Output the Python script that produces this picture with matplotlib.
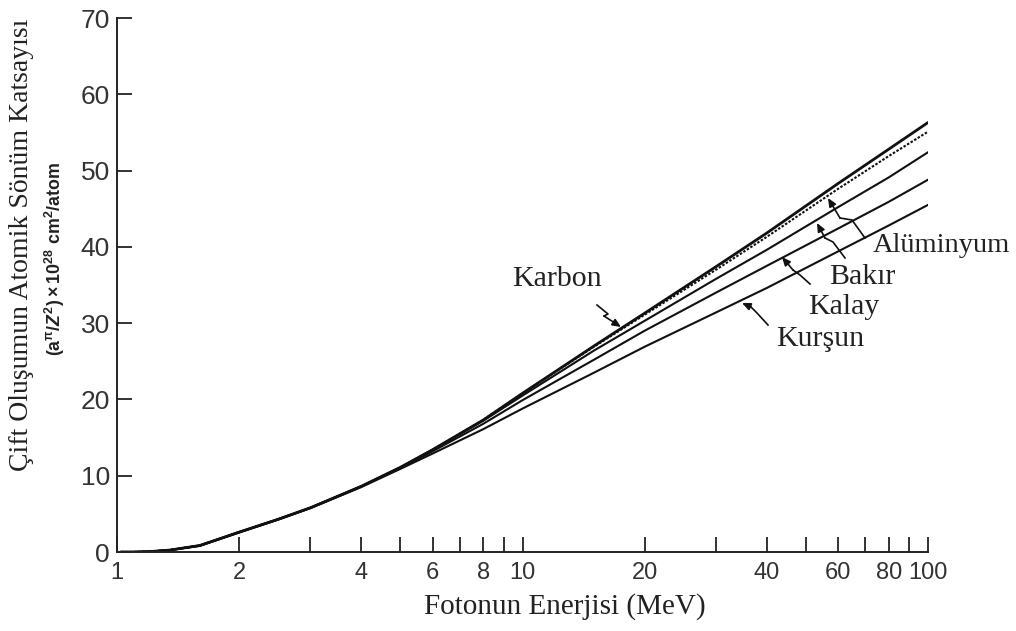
import matplotlib
matplotlib.use("Agg")
import matplotlib.pyplot as plt
from matplotlib.lines import Line2D
from matplotlib.ticker import FixedLocator, FixedFormatter, NullLocator

# ---- data ----
energy = [1.022, 1.1, 1.2, 1.35, 1.6, 2, 2.5, 3, 4, 5, 6, 8, 10, 15, 20, 30, 40, 60, 80, 100]
karbon = [0, 0.0, 0.05, 0.25, 0.85, 2.6, 4.3, 5.8, 8.6, 11.1, 13.4, 17.3, 20.8, 27.0, 31.3, 37.4, 41.8, 48.3, 52.8, 56.3]
aluminyum = [0, 0.0, 0.05, 0.25, 0.85, 2.6, 4.3, 5.8, 8.6, 11.1, 13.4, 17.3, 20.8, 26.9, 31.1, 37.0, 41.3, 47.6, 51.9, 55.1]
bakir = [0, 0.0, 0.05, 0.25, 0.85, 2.6, 4.3, 5.8, 8.6, 11.1, 13.4, 17.2, 20.5, 26.4, 30.3, 35.8, 39.6, 45.2, 49.1, 52.4]
kalay = [0, 0.0, 0.05, 0.25, 0.85, 2.6, 4.3, 5.8, 8.6, 11.0, 13.2, 16.8, 19.9, 25.2, 29.0, 34.0, 37.5, 42.4, 45.9, 48.8]
kursun = [0, 0.0, 0.05, 0.25, 0.8, 2.55, 4.25, 5.75, 8.5, 10.9, 12.9, 16.1, 18.8, 23.5, 26.9, 31.4, 34.6, 39.4, 42.8, 45.5]

xtick_pos = [1, 2, 3, 4, 5, 6, 7, 8, 9, 10, 20, 30, 40, 50, 60, 70, 80, 90, 100]
xtick_lab = ["1", "2", "", "4", "", "6", "", "8", "", "10", "20", "", "40", "", "60", "", "80", "", "100"]
ytick_pos = [0, 10, 20, 30, 40, 50, 60, 70]

W, H = 1016, 631
fig = plt.figure(figsize=(W / 100, H / 100), dpi=100)
ax = fig.add_axes([117 / W, 1 - 552 / H, (928 - 117) / W, (552 - 18) / H])

ink = "#111111"
ax.plot(energy, karbon, color=ink, lw=2.0, solid_capstyle="round", solid_joinstyle="round")
ax.plot(energy, aluminyum, color=ink, lw=1.5, ls=(0, (1.2, 0.8)))
ax.plot(energy, bakir, color=ink, lw=1.5, solid_joinstyle="round")
ax.plot(energy, kalay, color=ink, lw=1.5, solid_joinstyle="round")
ax.plot(energy, kursun, color=ink, lw=1.5, solid_joinstyle="round")

ax.set_xscale("log")
ax.set_xlim(1, 100)
ax.set_ylim(0, 70)
ax.xaxis.set_major_locator(FixedLocator(xtick_pos))
ax.xaxis.set_major_formatter(FixedFormatter(xtick_lab))
ax.xaxis.set_minor_locator(NullLocator())
ax.yaxis.set_major_locator(FixedLocator(ytick_pos))
ax.set_yticklabels([str(v) for v in ytick_pos])

for s in ["top", "right"]:
    ax.spines[s].set_visible(False)
for s in ["left", "bottom"]:
    ax.spines[s].set_linewidth(1.4)
    ax.spines[s].set_color("#222222")

ax.tick_params(axis="both", direction="in", length=11, width=1.3, color="#222222")
ax.tick_params(axis="x", pad=7, labelsize=17, labelcolor="#333333")
ax.tick_params(axis="y", pad=5, labelsize=19, labelcolor="#333333")
for lab in ax.get_xticklabels() + ax.get_yticklabels():
    lab.set_fontfamily("Liberation Sans")

serif = "Liberation Serif"
tc = "#222222"
fig.text(565 / W, 1 - 607 / H, "Fotonun Enerjisi (MeV)", ha="center", va="center",
         fontsize=21, family=serif, color=tc)
fig.text(22 / W, 1 - 245 / H, "Çift Oluşumun Atomik Sönüm Katsayısı", ha="center", va="center",
         rotation=90, fontsize=20, family=serif, color=tc)

plt.rcParams["mathtext.fontset"] = "custom"
plt.rcParams["mathtext.rm"] = "Liberation Sans:bold"
plt.rcParams["mathtext.it"] = "Liberation Sans:italic:bold"
plt.rcParams["mathtext.bf"] = "Liberation Sans:bold"
fig.text(55 / W, 1 - 259 / H, r"$\mathrm{(a^{\pi}/}\mathit{Z}^{\mathrm{2}}\mathrm{)\times10^{28}\ cm^{2}/atom}$",
         ha="center", va="center", rotation=90, fontsize=12.8, color=tc)


def fp(p):
    return (p[0] / W, 1 - p[1] / H)


def leader(points):
    pts = [fp(p) for p in points]
    xs = [p[0] for p in pts[:-1]]
    ys = [p[1] for p in pts[:-1]]
    fig.add_artist(Line2D(xs, ys, transform=fig.transFigure, color=ink, lw=1.2))
    ax.annotate("", xy=pts[-1], xycoords="figure fraction", xytext=pts[-2], textcoords="figure fraction",
                arrowprops=dict(arrowstyle="-|>,head_length=0.5,head_width=0.22", color=ink, lw=1.2,
                                shrinkA=0, shrinkB=0))


labels = [
    ("Karbon", (512, 279), 21.5, [(597, 305), (608, 314), (604, 316), (621, 327)]),
    ("Alüminyum", (873, 245), 20.5, [(865, 238), (852, 220), (840, 218), (828, 198)]),
    ("Bakır", (829, 277), 21.5, [(845, 258), (833, 242), (825, 238), (817, 223)]),
    ("Kalay", (808, 307), 21.5, [(810, 284), (800, 275), (793, 270), (782, 257)]),
    ("Kurşun", (776, 339), 21.5, [(768, 325), (757, 313), (751, 307), (742, 303)]),
]
for name, pos, fs, path in labels:
    fig.text(pos[0] / W, 1 - pos[1] / H, name, ha="left", va="center", fontsize=fs,
             family=serif, color=tc)
    leader(path)

fig.savefig("out.png", dpi=100)
